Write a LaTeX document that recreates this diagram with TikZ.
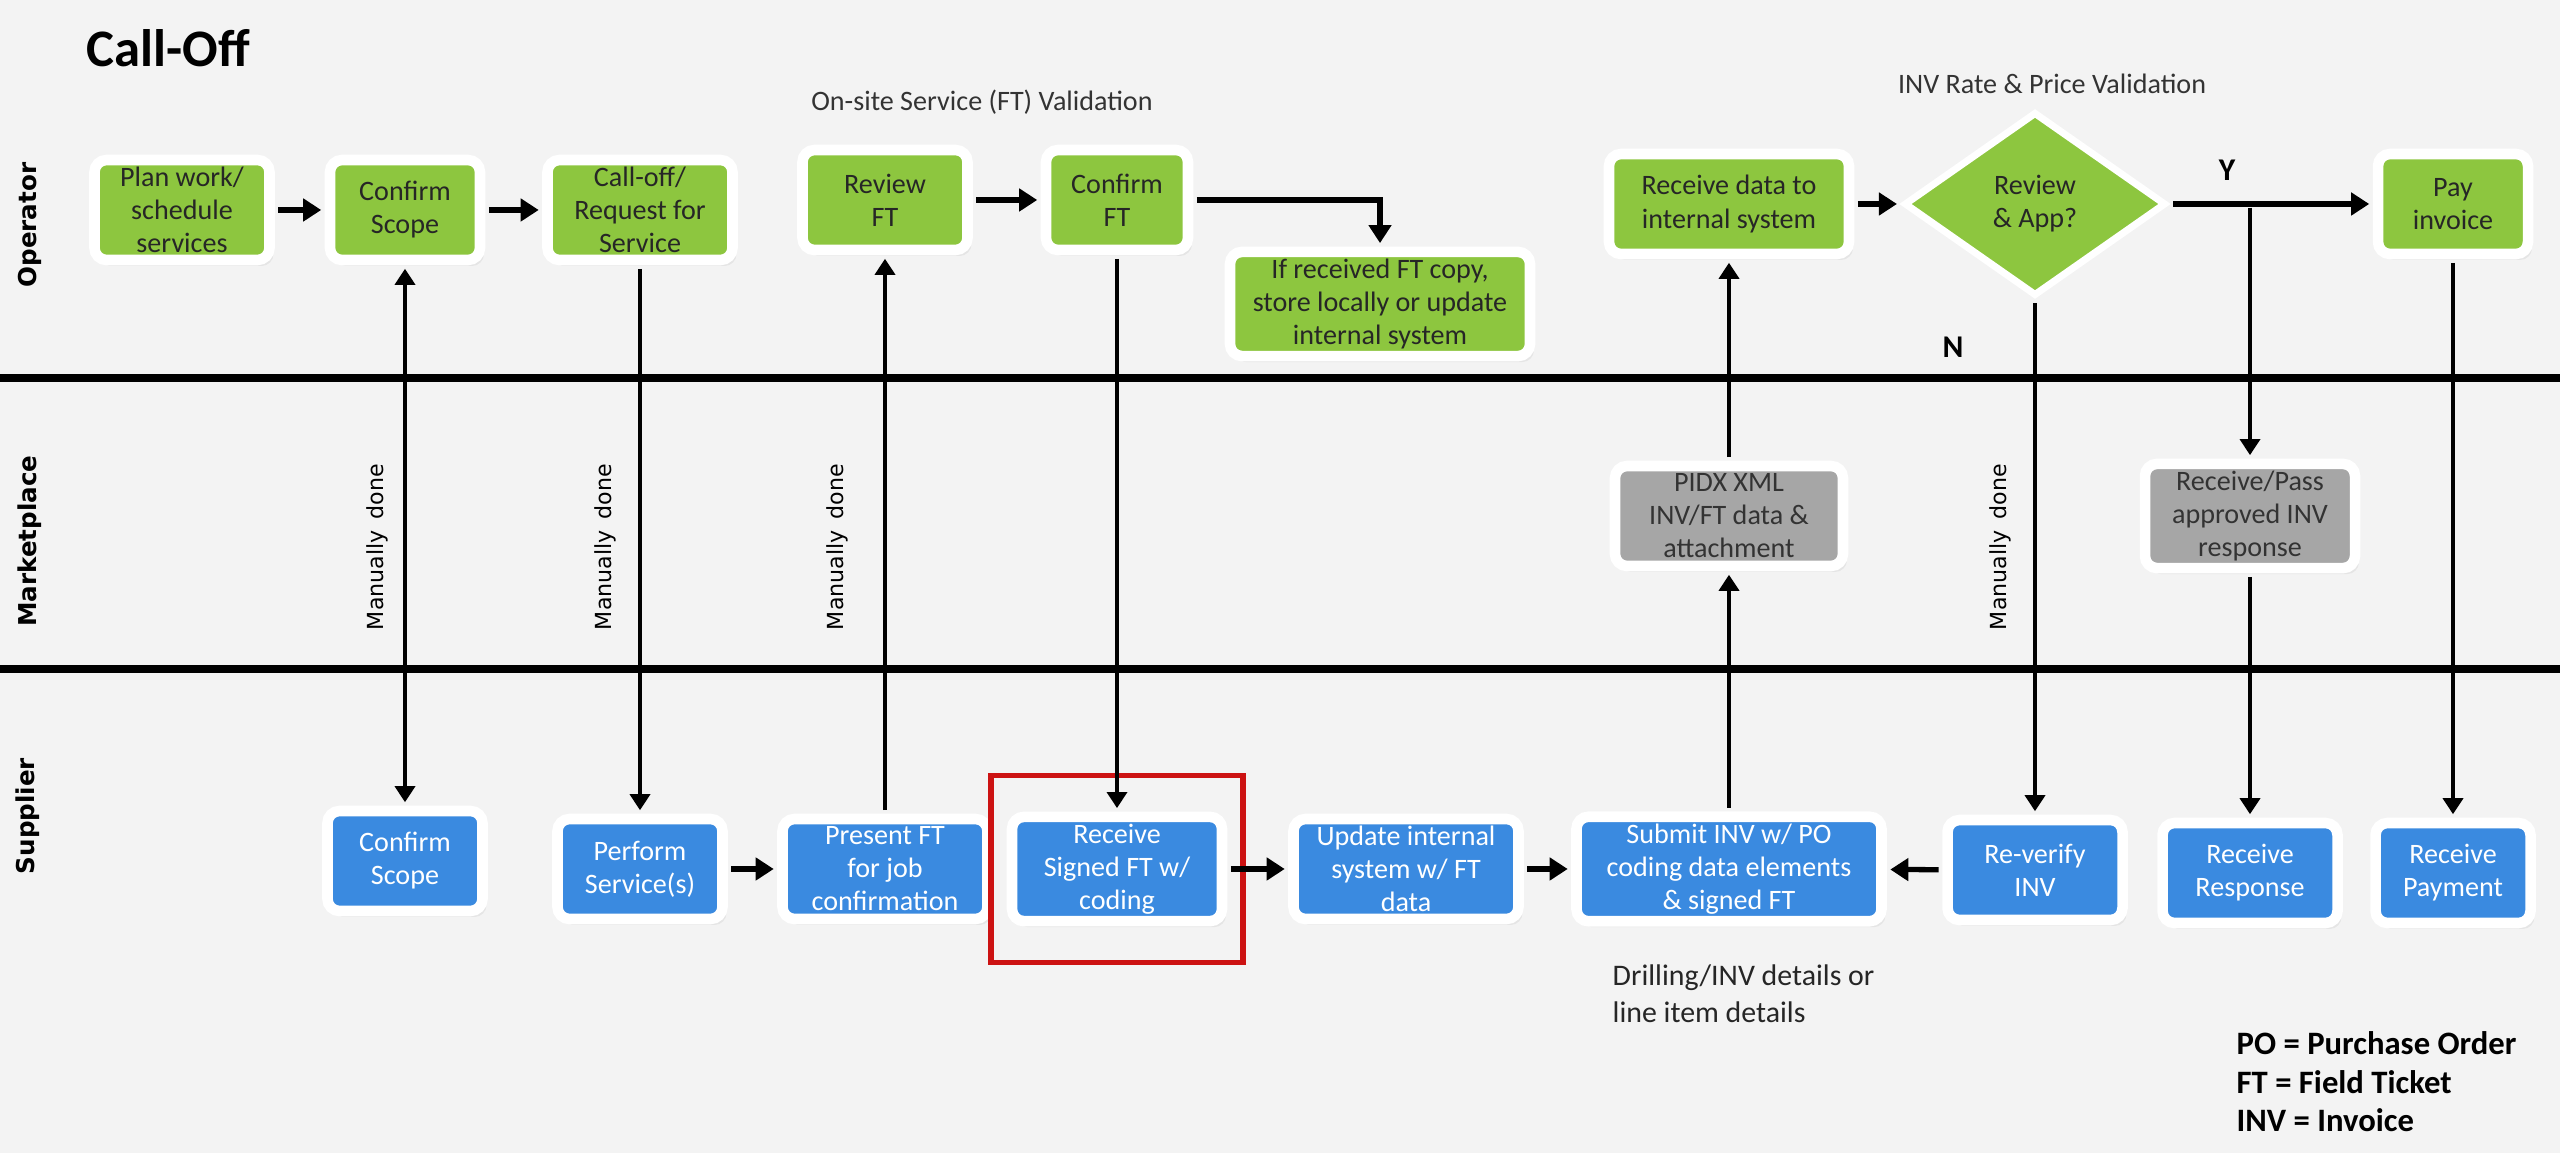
\documentclass[tikz,border=0pt]{standalone}
\usepackage{fontspec}
\setmainfont{Carlito}
\newfontfamily\lanefont{DejaVu Sans}
\usepackage{xcolor}
\usepackage{tikz}
\usetikzlibrary{arrows.meta,shapes.geometric,positioning,fit,shadows}

\definecolor{opgreen}{RGB}{141,198,63}
\definecolor{supblue}{RGB}{58,138,224}
\definecolor{mktgray}{RGB}{166,166,166}
\definecolor{bggray}{RGB}{243,243,243}
\definecolor{hlred}{RGB}{204,18,18}

\begin{document}
\begin{tikzpicture}[
    every node/.style={font=\fontsize{8}{9.4}\selectfont},
    box/.style={rectangle,rounded corners=1.2mm,draw=white,line width=3pt,align=center,inner sep=2pt,minimum height=10mm,
      drop shadow={opacity=0.12,shadow xshift=0.4mm,shadow yshift=-0.6mm}},
    opbox/.style={box,fill=opgreen,text=black!85},
    mktbox/.style={box,fill=mktgray,text=black!80},
    supbox/.style={box,fill=supblue,text=white},
    decision/.style={diamond,fill=opgreen,draw=white,line width=2pt,minimum width=26.2mm,minimum height=18.4mm,inner sep=0pt,align=center,text=black!85},
    flow/.style={line width=1pt,shorten >=1pt,shorten <=1pt,-{Triangle[length=1.6mm,width=2mm]}},
    stepflow/.style={line width=1.5pt,shorten >=1pt,shorten <=1pt,-{Triangle[length=1.8mm,width=2.2mm]}},
    lanesep/.style={line width=2.2pt},
    lanelabel/.style={rotate=90,font=\lanefont\bfseries\fontsize{7}{8}\selectfont},
    manual/.style={rotate=90,font=\lanefont\fontsize{6.3}{7}\selectfont},
    branch/.style={font=\bfseries\fontsize{9}{10}\selectfont},
]
\fill[bggray] (0,0) rectangle (25.6,-11.53);
\useasboundingbox (0,0) rectangle (25.6,-11.53);

% swimlanes
\draw[lanesep] (0,-3.78) -- (25.6,-3.78);
\draw[lanesep] (0,-6.69) -- (25.6,-6.69);
\node[lanelabel] (lop) at (0.30,-2.25) {Operator};
\node[lanelabel] (lmk) at (0.30,-5.41) {Marketplace};
\node[lanelabel] (lsu) at (0.28,-8.16) {Supplier};

% titles
\node[font=\fontsize{15}{18}\selectfont\bfseries,anchor=base west] (title) at (0.74,-0.67) {Call-Off};
\node[text=black!80] (hdrft) at (9.82,-1.02) {On-site Service (FT) Validation};
\node[text=black!80] (hdrinv) at (20.52,-0.84) {INV Rate \& Price Validation};

% operator
\node[opbox,minimum width=17.5mm] (plan) at (1.82,-2.10) {Plan work/\\schedule\\services};
\node[opbox,minimum width=15mm] (scopeop) at (4.05,-2.10) {Confirm\\Scope};
\node[opbox,minimum width=18.5mm] (calloff) at (6.40,-2.10) {Call-off/\\Request for\\Service};
\node[opbox,minimum width=16.5mm] (review) at (8.85,-2.00) {Review\\FT};
\node[opbox,minimum width=14.2mm] (confirm) at (11.17,-2.00) {Confirm\\FT};
\node[opbox,minimum width=30mm] (store) at (13.80,-3.04) {If received FT copy,\\store locally or update\\internal system};
\node[opbox,minimum width=24mm] (recvdata) at (17.29,-2.04) {Receive data to\\internal system};
\node[decision] (approve) at (20.35,-2.04) {Review\\\& App?};
\node[opbox,minimum width=15mm] (pay) at (24.53,-2.04) {Pay\\invoice};

% marketplace
\node[mktbox,minimum width=22.8mm] (pidx) at (17.29,-5.16) {PIDX XML\\INV/FT data \&\\attachment};
\node[mktbox,minimum width=21mm] (relay) at (22.50,-5.16) {Receive/Pass\\approved INV\\response};

% supplier
\node[supbox,minimum width=15.5mm] (scopesup) at (4.05,-8.61) {Confirm\\Scope};
\node[supbox,minimum width=16.5mm] (perform) at (6.40,-8.69) {Perform\\Service(s)};
\node[supbox,minimum width=20.5mm] (present) at (8.85,-8.69) {Present FT\\for job\\confirmation};
\node[supbox,minimum width=21mm] (signed) at (11.17,-8.69) {Receive\\Signed FT w/\\coding};
\node[supbox,minimum width=22.5mm] (update) at (14.06,-8.69) {Update internal\\system w/ FT\\data};
\node[supbox,minimum width=30.5mm] (submit) at (17.29,-8.69) {Submit INV w/ PO\\coding data elements\\\& signed FT};
\node[supbox,minimum width=17.5mm] (reverify) at (20.35,-8.70) {Re-verify\\INV};
\node[supbox,minimum width=17.5mm] (response) at (22.50,-8.73) {Receive\\Response};
\node[supbox,minimum width=15.5mm] (payment) at (24.53,-8.73) {Receive\\Payment};
\node[draw=hlred,line width=1.6pt,fit=(signed),inner xsep=1.6mm,inner ysep=3.6mm] (hlbox) {};

% manual hand-offs
\node[manual] (m1) at (3.77,-5.47) {Manually\hspace{0.5em}done};
\node[manual] (m2) at (6.05,-5.47) {Manually\hspace{0.5em}done};
\node[manual] (m3) at (8.37,-5.47) {Manually\hspace{0.5em}done};
\node[manual] (m4) at (20.00,-5.47) {Manually\hspace{0.5em}done};

% notes
\node[anchor=north west,align=left,inner sep=0pt,font=\fontsize{8.5}{10.5}\selectfont,text=black!85] (drill) at (16.12,-9.64) {Drilling/INV details or\\line item details};
\node[anchor=north west,align=left,inner sep=0pt,font=\bfseries\fontsize{9.3}{11}\selectfont] (legend) at (22.36,-10.31) {PO = Purchase Order\\FT = Field Ticket\\INV = Invoice};

% flows
\draw[stepflow] (plan) -- (scopeop);
\draw[stepflow] (scopeop) -- (calloff);
\draw[stepflow] (review) -- (confirm);
\draw[stepflow] (confirm.east) -| (store.north);
\draw[stepflow] (recvdata) -- (approve);
\draw[stepflow] (approve) -- (pay);
\node[branch] (ylbl) at (22.27,-1.70) {Y};
\node[branch] (nlbl) at (19.53,-3.47) {N};
\draw[flow] (approve.east -| relay.north) -- (relay.north);
\draw[flow] (approve) -- (reverify);
\draw[flow] (relay) -- (response);
\draw[flow] (pay) -- (payment);
\draw[flow] (submit) -- (pidx);
\draw[flow] (pidx) -- (recvdata);
\draw[flow,{Triangle[length=1.6mm,width=2mm]}-{Triangle[length=1.6mm,width=2mm]}] (scopeop) -- (scopesup);
\draw[flow] (calloff) -- (perform);
\draw[flow] (present) -- (review);
\draw[flow] (confirm) -- (signed);
\draw[stepflow] (perform) -- (present);
\draw[stepflow] (signed) -- (update);
\draw[stepflow] (update) -- (submit);
\draw[stepflow] (reverify) -- (submit);
\end{tikzpicture}
\end{document}
